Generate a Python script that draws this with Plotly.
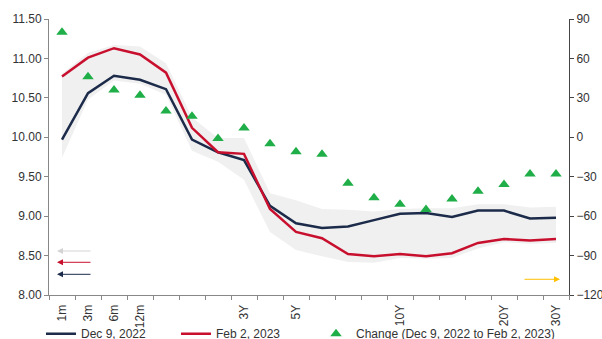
import plotly.graph_objects as go

tenors = ["1m", "3m", "6m", "12m", "18m", "2Y", "30m", "3Y", "4Y", "5Y",
          "6Y", "7Y", "8Y", "10Y", "12Y", "15Y", "17Y", "20Y", "25Y", "30Y"]
tick_labels = ["1m", "3m", "6m", "12m", "", "", "", "3Y", "", "5Y",
               "", "", "", "10Y", "", "", "", "20Y", "", "30Y"]

dec_9_2022 = [9.97, 10.56, 10.78, 10.73, 10.61, 9.97, 9.81, 9.71, 9.13, 8.91,
              8.85, 8.87, 8.95, 9.03, 9.04, 8.99, 9.07, 9.07, 8.97, 8.98]
feb_2_2023 = [10.77, 11.01, 11.13, 11.05, 10.82, 10.12, 9.81, 9.79, 9.09, 8.80,
              8.72, 8.52, 8.49, 8.52, 8.49, 8.53, 8.66, 8.71, 8.69, 8.71]
change_bp = [80, 46, 36, 32, 20, 16, -1, 7, -5, -11,
             -13, -35, -46, -51, -55, -47, -41, -36, -28, -28]
range_high = [10.81, 11.07, 11.17, 11.15, 10.94, 10.25, 9.99, 9.99, 9.29, 9.20,
              9.09, 9.08, 9.06, 9.09, 9.10, 9.10, 9.15, 9.15, 9.11, 9.12]
range_low = [9.74, 10.48, 10.72, 10.68, 10.54, 9.83, 9.69, 9.46, 8.80, 8.57,
             8.49, 8.42, 8.41, 8.47, 8.46, 8.47, 8.59, 8.67, 8.65, 8.66]

NAVY = "#1c2b4a"
RED = "#c8102e"
GREEN = "#1fae48"
BAND = "#f0f0f0"
FONT = "Liberation Sans, Arial, sans-serif"

fig = go.Figure()
fig.add_trace(go.Scatter(x=tenors, y=range_low, mode="lines", line=dict(width=0),
                         showlegend=False, hoverinfo="skip"))
fig.add_trace(go.Scatter(x=tenors, y=range_high, mode="lines", line=dict(width=0),
                         fill="tonexty", fillcolor=BAND, showlegend=False, hoverinfo="skip"))
fig.add_trace(go.Scatter(x=tenors, y=dec_9_2022, mode="lines", name="Dec 9, 2022",
                         line=dict(color=NAVY, width=2.5), legend="legend"))
fig.add_trace(go.Scatter(x=tenors, y=feb_2_2023, mode="lines", name="Feb 2, 2023",
                         line=dict(color=RED, width=2.5), legend="legend2"))
fig.add_trace(go.Scatter(x=tenors, y=change_bp, mode="markers", yaxis="y2",
                         name="Change (Dec 9, 2022 to Feb 2, 2023)", legend="legend3",
                         marker=dict(symbol="triangle-up", size=10, color=GREEN)))

arrows = [
    (0.0154, 0.1594, 35, "#d3d3d3"),
    (0.0154, 0.1185, 35, RED),
    (0.0154, 0.0750, 35, NAVY),
    (0.9827, 0.0569, -37, "#ffc000"),
]
for x, y, ax, col in arrows:
    fig.add_annotation(x=x, y=y, xref="paper", yref="paper", ax=ax, ay=0,
                       axref="pixel", ayref="pixel", text="", showarrow=True,
                       arrowhead=2, arrowsize=1.2, arrowwidth=1, arrowcolor=col)

legend_style = dict(orientation="h", xanchor="left", y=-0.088, yanchor="top",
                    font=dict(size=12, color="#333333"), bgcolor="rgba(0,0,0,0)",
                    itemwidth=30)

fig.update_layout(
    width=602, height=339,
    margin=dict(l=49, r=33, t=19, b=44, autoexpand=False),
    paper_bgcolor="white", plot_bgcolor="white",
    font=dict(family=FONT, size=12, color="#333333"),
    showlegend=True,
    legend=dict(x=-0.0154, **legend_style),
    legend2=dict(x=0.2442, **legend_style),
    legend3=dict(x=0.5135, **legend_style),
    xaxis=dict(type="category", range=[-0.5, 19.5], tickmode="array",
               tickvals=tenors, ticktext=tick_labels, tickson="boundaries",
               tickangle=-90, ticks="outside", ticklen=4, tickcolor="#888888",
               ticklabelstandoff=4,
               showline=True, linecolor="#888888", linewidth=1, showgrid=False,
               zeroline=False),
    yaxis=dict(range=[8, 11.5], dtick=0.5, tickformat=".2f", ticks="outside",
               ticklen=4, tickcolor="#888888", showline=True, linecolor="#888888",
               linewidth=1, showgrid=False, zeroline=False),
    yaxis2=dict(range=[-120, 90], dtick=30, overlaying="y", side="right",
                ticks="outside", ticklen=4, tickcolor="#444444", showline=True,
                linecolor="#444444", linewidth=1, showgrid=False, zeroline=False),
)

fig.write_html("out.html")
